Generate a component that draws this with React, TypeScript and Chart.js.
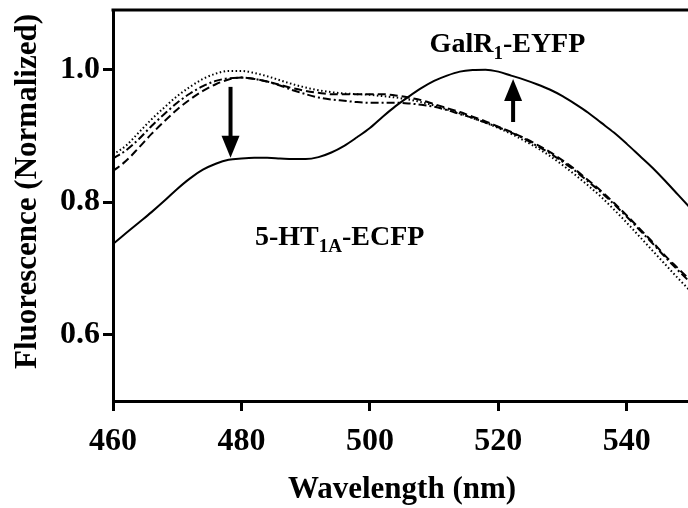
import React, { useEffect, useRef } from "react";
import { Chart, registerables } from "chart.js";

Chart.register(...registerables);

const FONT = '"Liberation Serif", "Times New Roman", serif';

const wavelengths = [
  460, 462, 464, 466, 468, 470, 472, 474, 476, 478, 480, 482, 484, 486, 488, 490,
  492, 494, 496, 498, 500, 502, 504, 506, 508, 510, 512, 514, 516, 518, 520, 522,
  524, 526, 528, 530, 532, 534, 536, 538, 540, 542, 544, 546, 548, 550,
];

// solid line (after activation)
const solidSeries = [
  0.737, 0.753, 0.769, 0.785, 0.802, 0.82, 0.836, 0.849, 0.858, 0.864, 0.866, 0.867, 0.867, 0.866, 0.865, 0.865,
  0.868, 0.875, 0.885, 0.898, 0.912, 0.929, 0.945, 0.959, 0.972, 0.983, 0.991, 0.997, 0.9995, 1.0, 0.997, 0.991,
  0.985, 0.978, 0.97, 0.96, 0.948, 0.935, 0.92, 0.905, 0.888, 0.87, 0.852, 0.832, 0.811, 0.79,
];

const dottedSeries = [
  0.872, 0.885, 0.905, 0.925, 0.943, 0.96, 0.974, 0.986, 0.994, 0.998, 0.998, 0.995, 0.99, 0.984, 0.978, 0.973,
  0.969, 0.966, 0.964, 0.963, 0.962, 0.96, 0.958, 0.955, 0.951, 0.946, 0.94, 0.934, 0.927, 0.92, 0.912, 0.903,
  0.893, 0.882, 0.87, 0.856, 0.841, 0.825, 0.808, 0.789, 0.769, 0.748, 0.727, 0.706, 0.685, 0.665,
];

const dashDotSeries = [
  0.866, 0.878, 0.895, 0.915, 0.933, 0.95, 0.964, 0.975, 0.983, 0.987, 0.988, 0.986, 0.982, 0.976, 0.969, 0.963,
  0.958, 0.955, 0.953, 0.951, 0.95, 0.95, 0.95, 0.949, 0.947, 0.944, 0.939, 0.933, 0.927, 0.92, 0.913, 0.905,
  0.896, 0.885, 0.874, 0.861, 0.847, 0.831, 0.815, 0.797, 0.778, 0.758, 0.738, 0.717, 0.697, 0.678,
];

const dashedSeries = [
  0.847, 0.862, 0.882, 0.903, 0.922, 0.94, 0.955, 0.968, 0.978, 0.985, 0.988, 0.986, 0.982, 0.977, 0.972, 0.968,
  0.965, 0.963, 0.963, 0.963, 0.963, 0.963, 0.961, 0.958, 0.954, 0.948, 0.942, 0.936, 0.929, 0.922, 0.914, 0.906,
  0.897, 0.887, 0.876, 0.863, 0.849, 0.833, 0.817, 0.799, 0.78, 0.76, 0.74, 0.719, 0.7, 0.681,
];

const xTicks = [460, 480, 500, 520, 540];
const yTicks = [0.6, 0.8, 1.0];

// annotation arrows (data units)
const arrowX = [478.3, 522.3];
const arrowFrom = [0.974, 0.921];
const arrowTo = [0.867, 0.986];

// annotation labels (data units: left x, baseline y)
const labelX = [509.3, 482.1];
const labelY = [1.026, 0.735];
const labelMain1 = ["GalR", "5-HT"];
const labelSub = ["1", "1A"];
const labelMain2 = ["-EYFP", "-ECFP"];

const xTitle = "Wavelength (nm)";
const yTitle = "Fluorescence (Normalized)";

const overlayPlugin = {
  id: "overlay",
  afterDatasetsDraw(chart: any) {
    const { ctx, chartArea, scales } = chart;
    const xs = scales.x;
    const ys = scales.y;
    ctx.save();
    // frame (top & right)
    ctx.strokeStyle = "#000";
    ctx.lineWidth = 3;
    ctx.beginPath();
    ctx.moveTo(chartArea.left - 1.5, chartArea.top);
    ctx.lineTo(chartArea.right, chartArea.top);
    ctx.lineTo(chartArea.right, chartArea.bottom);
    ctx.stroke();

    // arrows
    ctx.fillStyle = "#000";
    for (let i = 0; i < arrowX.length; i++) {
      const px = xs.getPixelForValue(arrowX[i]);
      const y0 = ys.getPixelForValue(arrowFrom[i]);
      const y1 = ys.getPixelForValue(arrowTo[i]);
      const dir = Math.sign(y1 - y0);
      const headLen = 22;
      const headHalf = 9;
      ctx.lineWidth = 4;
      ctx.lineCap = "butt";
      ctx.beginPath();
      ctx.moveTo(px, y0);
      ctx.lineTo(px, y1 - dir * (headLen - 2));
      ctx.stroke();
      ctx.beginPath();
      ctx.moveTo(px, y1);
      ctx.lineTo(px - headHalf, y1 - dir * headLen);
      ctx.lineTo(px + headHalf, y1 - dir * headLen);
      ctx.closePath();
      ctx.fill();
    }

    // labels with subscripts
    ctx.textBaseline = "alphabetic";
    ctx.textAlign = "left";
    for (let i = 0; i < labelX.length; i++) {
      let px = xs.getPixelForValue(labelX[i]);
      const py = ys.getPixelForValue(labelY[i]);
      ctx.font = `bold 28px ${FONT}`;
      ctx.fillText(labelMain1[i], px, py);
      px += ctx.measureText(labelMain1[i]).width;
      ctx.font = `bold 19px ${FONT}`;
      ctx.fillText(labelSub[i], px, py + 7);
      px += ctx.measureText(labelSub[i]).width;
      ctx.font = `bold 28px ${FONT}`;
      ctx.fillText(labelMain2[i], px, py);
    }

    // y-axis title
    ctx.translate(28, (chartArea.top + chartArea.bottom) / 2 - 14);
    ctx.rotate(-Math.PI / 2);
    ctx.font = `bold 31px ${FONT}`;
    ctx.textAlign = "center";
    ctx.textBaseline = "middle";
    ctx.fillText(yTitle, 0, 0);
    ctx.restore();
  },
};

export default function App() {
  const canvasRef = useRef<HTMLCanvasElement | null>(null);

  useEffect(() => {
    if (!canvasRef.current) return;
    const toPts = (arr: number[]) => wavelengths.map((w, i) => ({ x: w, y: arr[i] }));
    const common = {
      borderColor: "#000",
      borderWidth: 2,
      pointRadius: 0,
      cubicInterpolationMode: "monotone" as const,
    };
    const chart = new Chart(canvasRef.current, {
      type: "line",
      data: {
        datasets: [
          { ...common, data: toPts(dottedSeries), borderDash: [1.5, 2.5] },
          { ...common, data: toPts(dashDotSeries), borderDash: [8, 3, 2, 3] },
          { ...common, data: toPts(dashedSeries), borderDash: [8, 4] },
          { ...common, data: toPts(solidSeries) },
        ],
      },
      options: {
        animation: false,
        responsive: true,
        maintainAspectRatio: false,
        layout: { padding: { top: 10, right: 4, left: 0, bottom: 0 } },
        plugins: { legend: { display: false }, tooltip: { enabled: false } },
        scales: {
          x: {
            type: "linear",
            min: 460,
            max: 550,
            afterBuildTicks: (s: any) => {
              s.ticks = xTicks.map((v) => ({ value: v }));
            },
            afterFit: (s: any) => {
              s.height = 107;
            },
            grid: {
              display: true,
              drawOnChartArea: false,
              drawTicks: true,
              tickLength: 10,
              tickWidth: 3,
              tickColor: "#000",
            },
            border: { display: true, color: "#000", width: 3 },
            ticks: {
              color: "#000",
              font: { family: FONT, size: 32, weight: "bold" },
              padding: 12,
              maxRotation: 0,
              autoSkip: false,
            },
            title: {
              display: true,
              text: xTitle,
              color: "#000",
              font: { family: FONT, size: 31, weight: "bold", lineHeight: 1 },
              padding: { top: 0, bottom: 3 },
            },
          },
          y: {
            type: "linear",
            min: 0.5,
            max: 1.09,
            afterBuildTicks: (s: any) => {
              s.ticks = yTicks.map((v) => ({ value: v }));
            },
            afterFit: (s: any) => {
              s.width = 113;
              s.paddingTop = 0;
              s.paddingBottom = 0;
            },
            grid: {
              display: true,
              drawOnChartArea: false,
              drawTicks: true,
              tickLength: 10,
              tickWidth: 3,
              tickColor: "#000",
            },
            border: { display: true, color: "#000", width: 3 },
            ticks: {
              color: "#000",
              font: { family: FONT, size: 32, weight: "bold" },
              padding: 3,
              autoSkip: false,
              callback: (v: any) => Number(v).toFixed(1),
            },
          },
        },
      },
      plugins: [overlayPlugin],
    });
    return () => chart.destroy();
  }, []);

  return (
    <div style={{ position: "fixed", left: 0, top: 0, width: 695, height: 508, background: "#fff" }}>
      <canvas ref={canvasRef} />
    </div>
  );
}
